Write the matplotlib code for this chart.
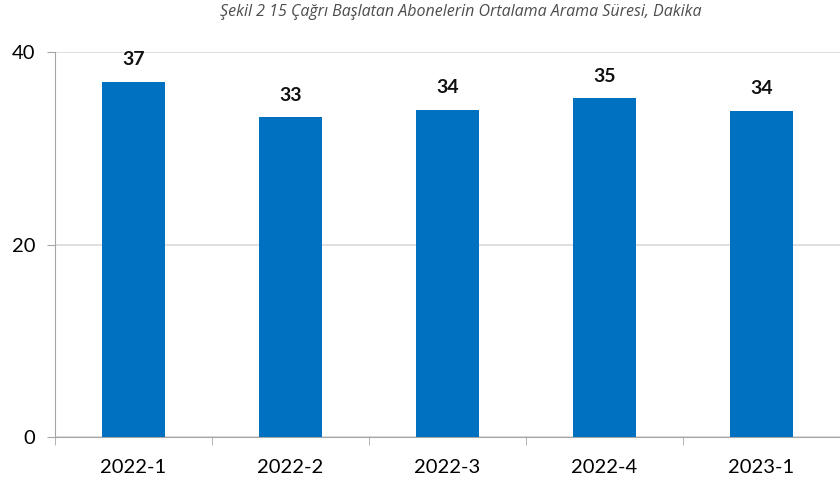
import matplotlib.pyplot as plt
import numpy as np

categories = ['2022-1', '2022-2', '2022-3', '2022-4', '2023-1']
values = [36.9, 33.2, 34.0, 35.2, 33.9]
labels = ['37', '33', '34', '35', '34']

plt.rcParams['font.family'] = ['Lato', 'DejaVu Sans']

fig = plt.figure(figsize=(8.4, 4.84), dpi=100)
ax = fig.add_axes([0.0655, 0.097, 0.9345, 0.7956])

x = np.arange(len(categories))
bars = ax.bar(x, values, width=0.4, color='#0070C0', zorder=3)
for b, lab in zip(bars, labels):
    ax.text(b.get_x() + b.get_width() / 2, b.get_height() + 1.4, lab,
            ha='center', va='bottom', fontsize=14, fontweight='bold', color='#111111')

ax.set_xlim(-0.5, len(categories) - 0.5)
ax.set_ylim(0, 40)
ax.set_yticks([0, 20, 40])
ax.set_xticks(x)
ax.set_xticklabels(categories)
ax.set_xticks(np.arange(-0.5, len(categories)), minor=True)
ax.tick_params(axis='x', which='major', length=0, labelsize=14.5, pad=16)
ax.tick_params(axis='x', which='minor', length=6, color='#a6a6a6')
ax.tick_params(axis='y', length=6, color='#a6a6a6', labelsize=14.5, pad=8)
ax.yaxis.grid(True, color='#d9d9d9', linewidth=1.2, zorder=0)
for s in ['top', 'right']:
    ax.spines[s].set_visible(False)
for s in ['left', 'bottom']:
    ax.spines[s].set_color('#a6a6a6')

fig.text(0.548, 0.975, 'Şekil 2 15 Çağrı Başlatan Abonelerin Ortalama Arama Süresi, Dakika',
         ha='center', va='center', fontsize=11.5, style='italic', color='#4d4d4d',
         family=['Open Sans', 'DejaVu Sans'])

fig.savefig('out.png', dpi=100)
